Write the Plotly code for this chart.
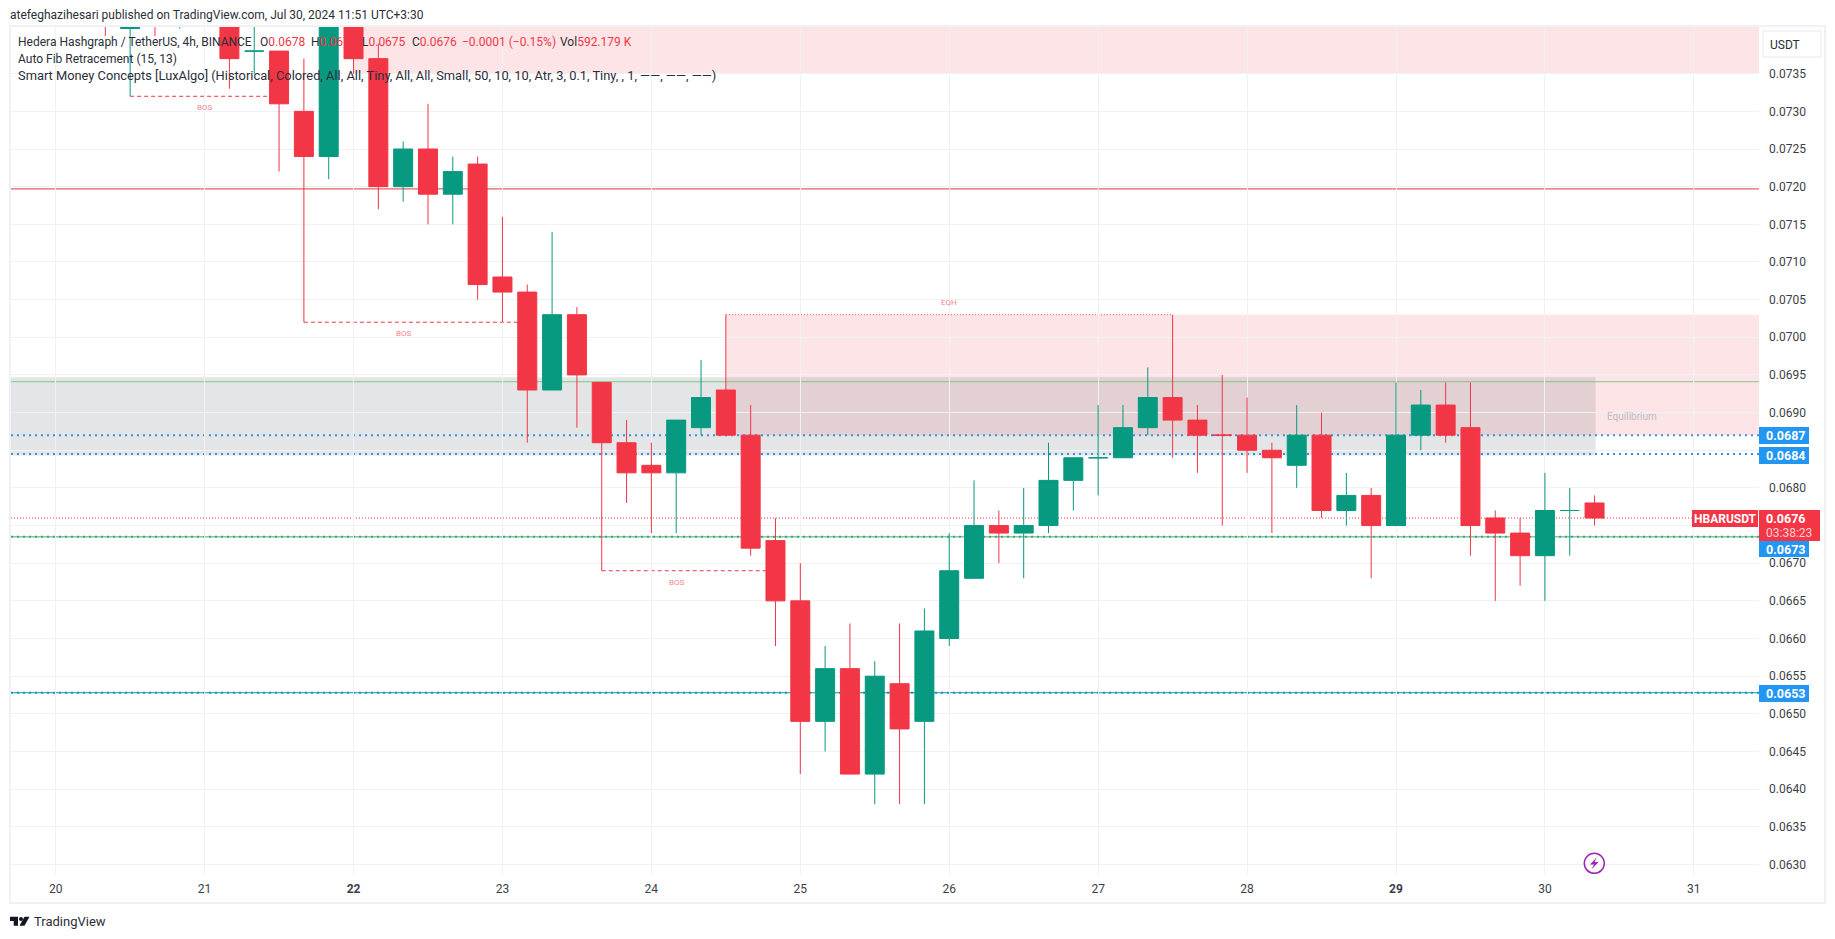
import pandas as pd
import plotly.graph_objects as go

# 4h candles, first one is 2024-07-20 08:00 (the first few run off the top of the chart)
open_ = [.0750, .0741, .0750, .0744, .0750, .0748, .0738, .0738, .0730, .0724,
         .0745, .0737, .0720, .0725, .0719, .0723, .0708, .0706, .0693, .0703,
         .0694, .0686, .0683, .0682, .0688, .0693, .0687, .0673, .0665, .0649,
         .0656, .0642, .0654, .0649, .0660, .0668, .0675, .0674, .0675, .0681,
         .0684, .0684, .0688, .0692, .0689, .0687, .0687, .0685, .0683, .0687,
         .0677, .0679, .0675, .0687, .0691, .0688, .0676, .0674, .0671, .0677,
         .0678]
high = [.0752, .0749, .0752, .0750, .0752, .0751, .0747, .0738, .0737, .0749,
        .0748, .0739, .0726, .0731, .0724, .0724, .0716, .0707, .0714, .0704,
        .0694, .0689, .0686, .0689, .0697, .0703, .0691, .0676, .0670, .0659,
        .0662, .0657, .0662, .0664, .0674, .0681, .0677, .0680, .0686, .0684,
        .0691, .0691, .0696, .0703, .0691, .0695, .0692, .0686, .0691, .0690,
        .0682, .0680, .0694, .0693, .0694, .0694, .0677, .0676, .0682, .0680,
        .0679]
low = [.0740, .0732, .0740, .0741, .0743, .0733, .0735, .0722, .0702, .0721,
       .0735, .0717, .0718, .0715, .0715, .0705, .0702, .0686, .0693, .0688,
       .0669, .0678, .0674, .0674, .0687, .0687, .0671, .0659, .0642, .0645,
       .0642, .0638, .0638, .0638, .0659, .0668, .0670, .0668, .0674, .0677,
       .0679, .0684, .0687, .0684, .0682, .0675, .0682, .0674, .0680, .0676,
       .0675, .0668, .0675, .0685, .0686, .0671, .0665, .0667, .0665, .0671,
       .0675]
close = [.0746, .0748, .0745, .0749, .0748, .0737, .0738, .0731, .0724, .0745,
         .0737, .0720, .0725, .0719, .0722, .0707, .0706, .0693, .0703, .0695,
         .0686, .0682, .0682, .0689, .0692, .0687, .0672, .0665, .0649, .0656,
         .0642, .0655, .0648, .0661, .0669, .0675, .0674, .0675, .0681, .0684,
         .0684, .0688, .0692, .0689, .0687, .0687, .0685, .0684, .0687, .0677,
         .0679, .0675, .0687, .0691, .0687, .0675, .0674, .0671, .0677, .0677,
         .0676]
times = pd.date_range("2024-07-20 08:00", periods=len(open_), freq="4h")

day_ticks = ["2024-07-%02d" % d for d in range(20, 32)]
day_labels = ["20", "21", "<b>22</b>", "23", "24", "25", "26", "27", "28", "<b>29</b>", "30", "31"]
price_ticks = [.0630, .0635, .0640, .0645, .0650, .0655, .0660, .0665, .0670, .0675, .0680,
               .0685, .0690, .0695, .0700, .0705, .0710, .0715, .0720, .0725, .0730, .0735]
# 0.0675 and 0.0685 sit behind the price tags
price_labels = ["0.0630", "0.0635", "0.0640", "0.0645", "0.0650", "0.0655", "0.0660", "0.0665", "0.0670", "",
                "0.0680", "", "0.0690", "0.0695", "0.0700", "0.0705", "0.0710", "0.0715", "0.0720", "0.0725",
                "0.0730", "0.0735"]

# levels of the indicators
x_start = "2024-07-19 16:48"
x_end = "2024-07-31 10:30"
y_low = .06286
y_high = .07412
last_price = .0676
resistance = .07197
fib_green = .06941
fib_blue = [.0687, .06845, .06735, .06528]
bos_lines = [("2024-07-20 12:00", "2024-07-21 12:00", .0732),
             ("2024-07-21 16:00", "2024-07-23 04:00", .0702),
             ("2024-07-23 16:00", "2024-07-24 20:00", .0669)]
bos_labels = [("2024-07-21 00:00", .07305), ("2024-07-22 08:00", .07005), ("2024-07-24 04:00", .06675)]

GREEN = "#089981"
RED = "#F23645"
BLUE = "#2196F3"
TEXT = "#2a2e39"
W, H = 1835, 939
LEFT, RIGHT, TOP, BOTTOM = 11, 1759, 27, 875
FONT = "Roboto"


def px(x):
    return (x - LEFT) / (RIGHT - LEFT)


def py(y):
    return 1 - (y - TOP) / (BOTTOM - TOP)


def label(x, y, text, color=TEXT, size=12, anchor="left"):
    # x, y are page pixels
    fig.add_annotation(x=px(x), y=py(y), xref="paper", yref="paper", text=text, showarrow=False,
                       xanchor=anchor, yanchor="middle", font=dict(family=FONT, size=size, color=color),
                       borderpad=0, borderwidth=0)


def box(x0, y0, x1, y1, color):
    fig.add_shape(type="rect", xref="paper", yref="paper", x0=px(x0), x1=px(x1), y0=py(y0), y1=py(y1),
                  fillcolor=color, line_width=0, layer="above")


def hline(y, color, width=1, dash="solid", x0=x_start, x1=x_end):
    fig.add_shape(type="line", x0=x0, x1=x1, y0=y, y1=y, layer="below",
                  line=dict(color=color, width=width, dash=dash))


fig = go.Figure()

fig.add_trace(go.Candlestick(
    x=times, open=open_, high=high, low=low, close=close,
    increasing=dict(line=dict(color=GREEN, width=1), fillcolor=GREEN),
    decreasing=dict(line=dict(color=RED, width=1), fillcolor=RED),
    whiskerwidth=0, showlegend=False, hoverinfo="skip",
))

# zones
fig.add_shape(type="rect", x0="2024-07-22 00:00", x1=x_end, y0=.0735, y1=y_high, layer="below",
              fillcolor="rgba(242,54,69,0.13)", line_width=0)
fig.add_shape(type="rect", x0="2024-07-24 12:00", x1=x_end, y0=.0687, y1=.0703, layer="below",
              fillcolor="rgba(242,54,69,0.13)", line_width=0)
fig.add_shape(type="rect", x0=x_start, x1="2024-07-30 08:10", y0=.06843, y1=.06947, layer="below",
              fillcolor="rgba(120,123,134,0.2)", line_width=0)

# levels
hline(resistance, "#e53935", 1)
hline(fib_green, "#81c784", 1)
for level in fib_blue:
    hline(level, "#2e93e6", 2, "2px,4px")
hline(fib_blue[2], "#4CAF50", 1)
hline(fib_blue[3], "#00979d", 1)
hline(last_price, RED, 1, "1px,2px")
hline(.0703, RED, 1, "1px,2px", "2024-07-24 12:00", "2024-07-27 12:00")
for x0, x1, y in bos_lines:
    hline(y, RED, 1, "4px,3px", x0, x1)

fig.update_layout(
    width=W, height=H,
    margin=dict(l=LEFT, r=W - RIGHT, t=TOP, b=H - BOTTOM),
    paper_bgcolor="white", plot_bgcolor="white",
    boxgap=0.235, boxgroupgap=0,
    hovermode=False,
    font=dict(family=FONT, size=12, color="#3b3e48"),
    xaxis=dict(range=[x_start, x_end], type="date", rangeslider=dict(visible=False),
               tickvals=day_ticks, ticktext=day_labels, tickangle=0,
               showgrid=True, gridcolor="#f0f1f5", gridwidth=1, zeroline=False, showline=False,
               ticks="", ticklabelstandoff=5),
    yaxis=dict(range=[y_low, y_high], side="right", tickvals=price_ticks, ticktext=price_labels,
               showgrid=True, gridcolor="#f0f1f5", gridwidth=1, zeroline=False, showline=False,
               ticks="", ticklabelstandoff=9),
)

# frame round the chart
fig.add_shape(type="rect", xref="paper", yref="paper", x0=px(10), x1=px(1825), y0=py(903), y1=py(26),
              line=dict(color="#f0f1f6", width=2), layer="above")

# price tags on the axis
box(1759, 427, 1809, 444, BLUE)
box(1759, 447, 1809, 464, BLUE)
box(1759, 541, 1809, 557, BLUE)
box(1759, 685, 1809, 702, BLUE)
box(1759, 510, 1820, 541, RED)
box(1692, 510, 1758, 527, RED)
label(1785, 436, "<b>0.0687</b>", "white", 12.5, "center")
label(1785, 455.5, "<b>0.0684</b>", "white", 12.5, "center")
label(1785, 549.5, "<b>0.0673</b>", "white", 12.5, "center")
label(1785, 693.5, "<b>0.0653</b>", "white", 12.5, "center")
label(1785.5, 518.5, "<b>0.0676</b>", "white", 12.5, "center")
label(1789, 533, "03:38:23", "#fbd0d4", 12, "center")
label(1725, 518.5, "<b>HBARUSDT</b>", "white", 12, "center")

# USDT button
fig.add_shape(type="rect", xref="paper", yref="paper", x0=px(1763), x1=px(1821), y0=py(57), y1=py(31),
              line=dict(color="#eef0f5", width=1.5), fillcolor="white", layer="above")
label(1785, 44.5, "USDT", TEXT, 12, "center")

# header and legend
label(10, 15, "atefeghazihesari published on TradingView.com, Jul 30, 2024 11:51 UTC+3:30")
label(18, 42, "Hedera Hashgraph / TetherUS, 4h, BINANCE")
label(260, 42, "O<span style='color:%s'>0.0678</span>" % RED)
label(311, 42, "H<span style='color:%s'>0.0679</span>" % RED)
label(362, 42, "L<span style='color:%s'>0.0675</span>" % RED)
label(412, 42, "C<span style='color:%s'>0.0676</span>" % RED)
label(462, 42, "−0.0001 (−0.15%)", RED)
label(560, 42, "Vol<span style='color:%s'>592.179 K</span>" % RED)
label(18, 59, "Auto Fib Retracement (15, 13)")
label(18, 76, "Smart Money Concepts [LuxAlgo] (Historical, Colored, All, All, Tiny, All, All, Small, 50, 10, 10, "
              "Atr, 3, 0.1, Tiny, , 1, ——, ——, ——)", TEXT, 12.85)

# small chart labels
for x, y in bos_labels:
    fig.add_annotation(x=x, y=y, text="BOS", showarrow=False, font=dict(size=8, color="#f7858d"))
fig.add_annotation(x="2024-07-26 00:00", y=.07046, text="EQH", showarrow=False, font=dict(size=8, color="#f7858d"))
fig.add_annotation(x="2024-07-30 14:00", y=.06895, text="Equilibrium", showarrow=False,
                   font=dict(size=10, color="#b9bac2"))

# TradingView logo at the bottom
fig.add_shape(type="path", xref="paper", yref="paper", fillcolor="#131722", line_width=0, layer="above",
              path="M%f,%f L%f,%f L%f,%f L%f,%f L%f,%f L%f,%f Z" % (
                  px(10), py(916.7), px(18), py(916.7), px(18), py(925.7),
                  px(13.7), py(925.7), px(13.7), py(921), px(10), py(921)))
fig.add_shape(type="circle", xref="paper", yref="paper", fillcolor="#131722", line_width=0, layer="above",
              x0=px(19), x1=px(23), y0=py(921), y1=py(917))
fig.add_shape(type="path", xref="paper", yref="paper", fillcolor="#131722", line_width=0, layer="above",
              path="M%f,%f L%f,%f L%f,%f L%f,%f Z" % (
                  px(24.5), py(916.7), px(29.5), py(916.7), px(24.5), py(925.7), px(19.5), py(925.7)))
label(34, 921.7, "TradingView", "#2a2e39", 13)

# purple flash icon near the bottom
fig.add_shape(type="circle", xref="paper", yref="paper", x0=px(1584.3), x1=px(1604.3), y0=py(873.3), y1=py(853.3),
              line=dict(color="#9c27b0", width=1.5), layer="above")
fig.add_shape(type="path", xref="paper", yref="paper", fillcolor="#9c27b0", line_width=0, layer="above",
              path="M%f,%f L%f,%f L%f,%f L%f,%f L%f,%f L%f,%f Z" % (
                  px(1597), py(857), px(1590), py(864.5), px(1594), py(864.5),
                  px(1591.5), py(869.5), px(1598.5), py(862), px(1594.5), py(862)))

# page must start at the very corner, no default body margin
fig.write_html("out.html", config=dict(displayModeBar=False), post_script="document.body.style.margin='0';")
